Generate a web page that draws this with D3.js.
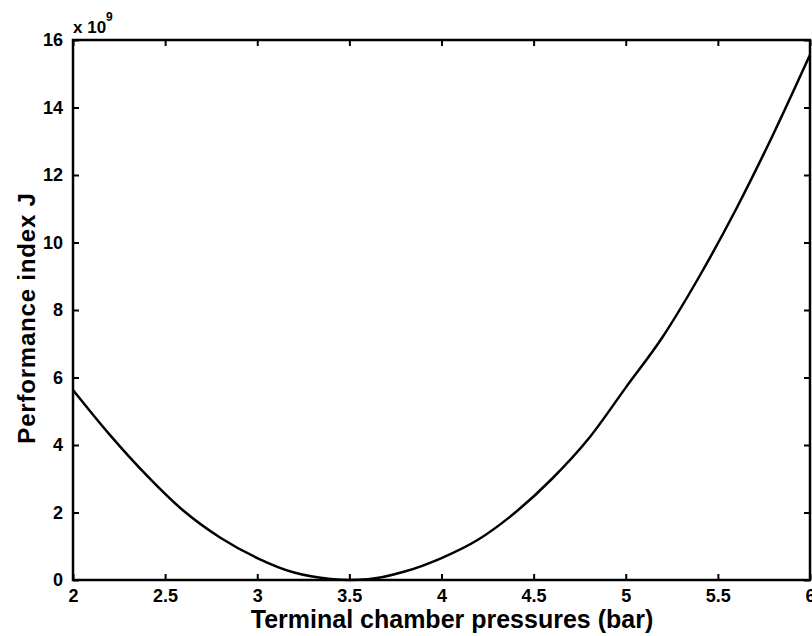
<!DOCTYPE html>
<html>
<head>
<meta charset="utf-8">
<script src="https://cdn.jsdelivr.net/npm/d3@7"></script>
<style>
  html, body { margin: 0; padding: 0; background: #fff; }
  svg { display: block; }
  text { font-family: "Liberation Sans", Arial, sans-serif; font-weight: bold; fill: #000; }
</style>
</head>
<body>
<svg id="chart" width="812" height="636"></svg>
<script>
// Terminal chamber pressure (bar) and performance index J (units of 1e9)
const pressures = [2.0, 2.2, 2.4, 2.6, 2.8, 3.0, 3.2, 3.4, 3.5, 3.6, 3.8, 4.0, 4.2, 4.4, 4.6, 4.8, 5.0, 5.2, 5.4, 5.6, 5.8, 6.0];
const perfIndex = [5.63, 4.3, 3.1, 2.05, 1.25, 0.65, 0.22, 0.03, 0.0, 0.02, 0.25, 0.65, 1.2, 2.0, 3.0, 4.2, 5.7, 7.2, 9.0, 11.0, 13.2, 15.56];
const xTicks = [2, 2.5, 3, 3.5, 4, 4.5, 5, 5.5, 6];
const yTicks = [0, 2, 4, 6, 8, 10, 12, 14, 16];

const svg = d3.select("#chart");
const m = { left: 73, right: 810, top: 40, bottom: 580 };

const x = d3.scaleLinear().domain([2, 6]).range([m.left, m.right]);
const y = d3.scaleLinear().domain([0, 16]).range([m.bottom, m.top]);

const tickLen = 6;

// Bottom axis (ticks pointing inward)
const gx = svg.append("g").attr("transform", `translate(0,${m.bottom})`)
  .call(d3.axisBottom(x).tickValues(xTicks).tickSizeInner(-tickLen).tickSizeOuter(0).tickPadding(9)
    .tickFormat(d3.format("")));
// Top axis ticks
const gxt = svg.append("g").attr("transform", `translate(0,${m.top})`)
  .call(d3.axisTop(x).tickValues(xTicks).tickSizeInner(-tickLen).tickSizeOuter(0).tickFormat(""));
// Left axis
const gy = svg.append("g").attr("transform", `translate(${m.left},0)`)
  .call(d3.axisLeft(y).tickValues(yTicks).tickSizeInner(-tickLen).tickSizeOuter(0).tickPadding(10));
// Right axis ticks
const gyr = svg.append("g").attr("transform", `translate(${m.right},0)`)
  .call(d3.axisRight(y).tickValues(yTicks).tickSizeInner(-tickLen).tickSizeOuter(0).tickFormat(""));

[gx, gxt, gy, gyr].forEach(g => {
  g.select(".domain").remove();
  g.selectAll(".tick line").attr("stroke", "#000").attr("stroke-width", 2);
});
gx.selectAll(".tick text").attr("font-size", 18).attr("font-family", "Liberation Sans, Arial, sans-serif").attr("dy", "0.72em");
gy.selectAll(".tick text").attr("font-size", 18).attr("font-family", "Liberation Sans, Arial, sans-serif");

// Plot box
svg.append("rect")
  .attr("x", m.left).attr("y", m.top)
  .attr("width", m.right - m.left).attr("height", m.bottom - m.top)
  .attr("fill", "none").attr("stroke", "#000").attr("stroke-width", 2.5);

// Performance index curve
const line = d3.line().x((d, i) => x(pressures[i])).y(d => y(d)).curve(d3.curveMonotoneX);
svg.append("path")
  .datum(perfIndex)
  .attr("d", line)
  .attr("fill", "none")
  .attr("stroke", "#000")
  .attr("stroke-width", 2.5)
  .attr("stroke-linejoin", "round");

// Exponent marker
const ex = svg.append("text").attr("x", m.left).attr("y", 33).attr("font-size", 17);
ex.append("tspan").text("x 10");
ex.append("tspan").attr("dy", -12).attr("font-size", 12).text("9");

// Axis titles
svg.append("text")
  .attr("x", 452).attr("y", 628)
  .attr("text-anchor", "middle").attr("font-size", 25)
  .text("Terminal chamber pressures (bar)");

svg.append("text")
  .attr("transform", "translate(35,318) rotate(-90)")
  .attr("text-anchor", "middle").attr("font-size", 24)
  .attr("letter-spacing", 0.8)
  .text("Performance index J");
</script>
</body>
</html>
